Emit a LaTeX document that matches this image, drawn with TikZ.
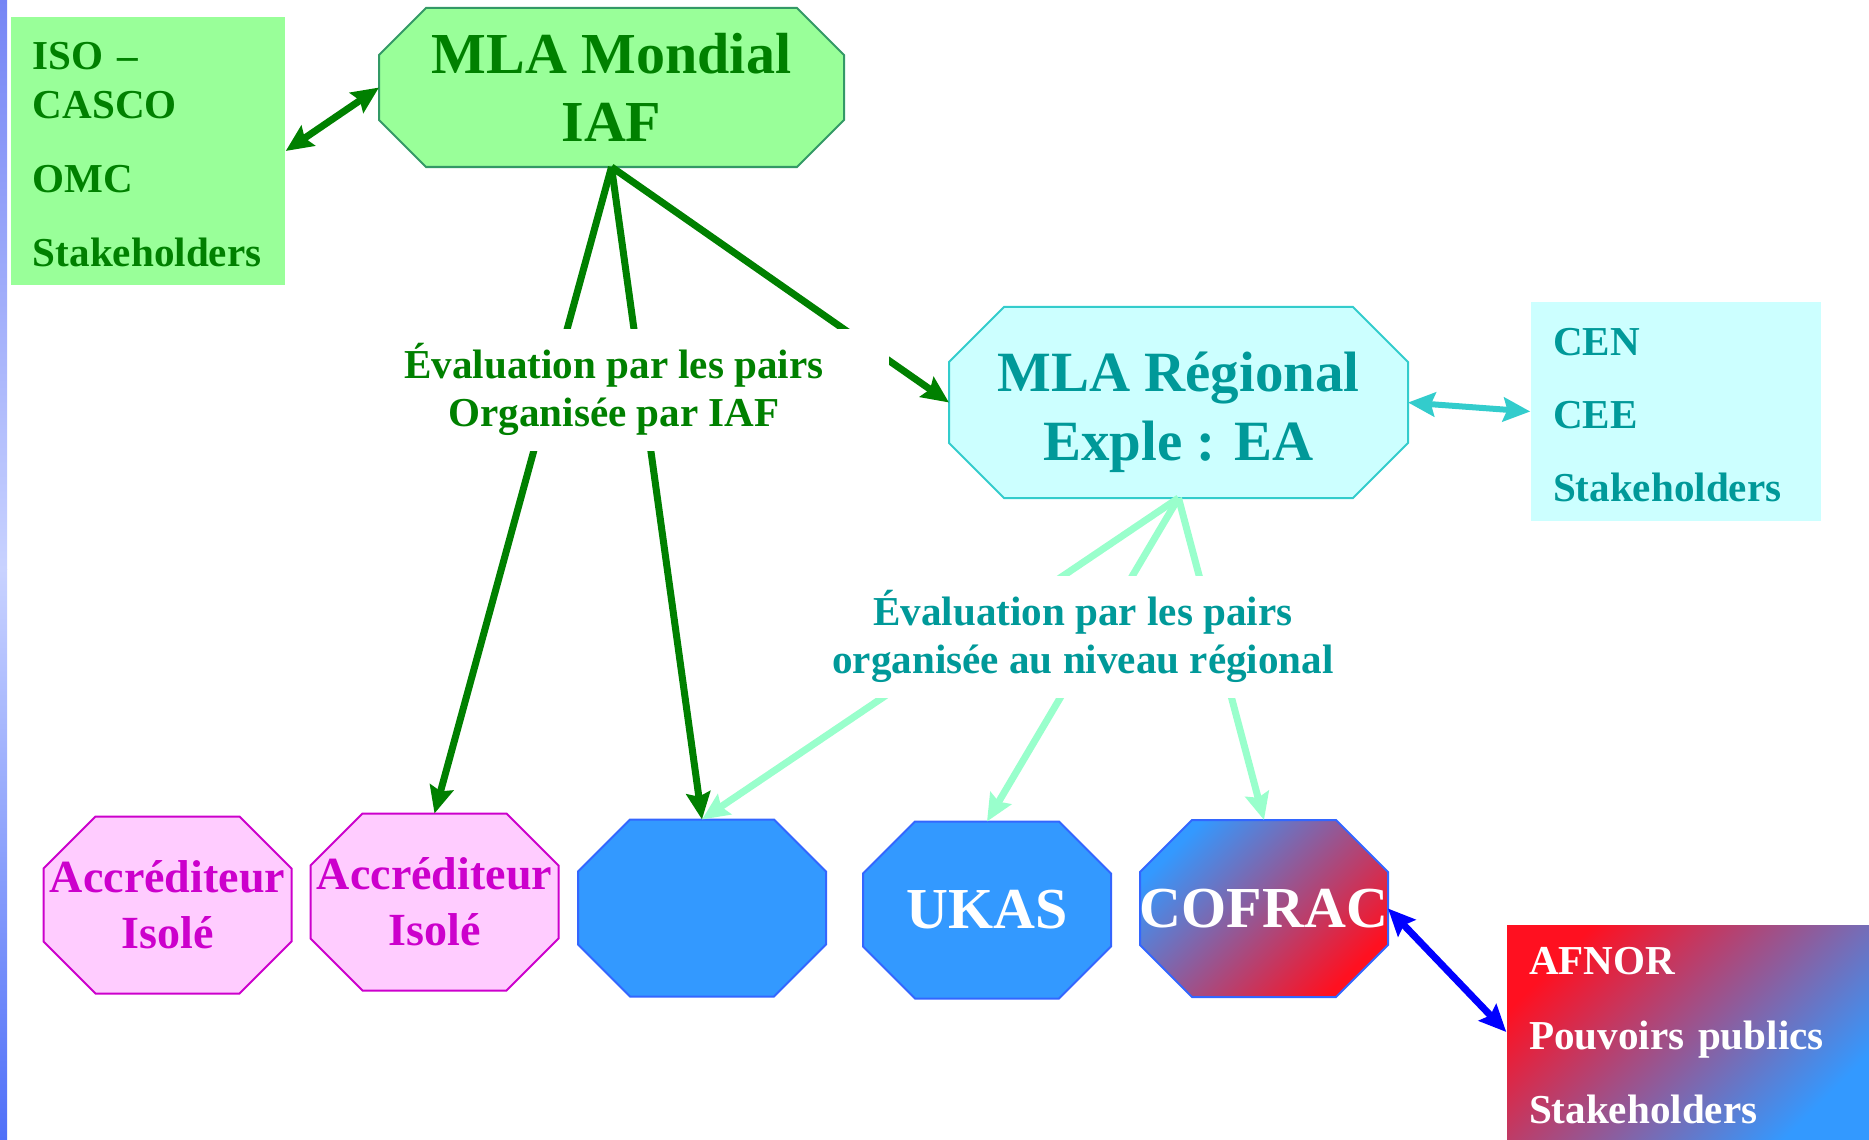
\documentclass[tikz,border=0pt]{standalone}
\usepackage{fontspec}
\setmainfont{Liberation Serif}
\usetikzlibrary{arrows.meta}

\definecolor{iafgreen}{HTML}{008000}
\definecolor{iaffill}{HTML}{99FF99}
\definecolor{iafline}{HTML}{339966}
\definecolor{eateal}{HTML}{009999}
\definecolor{eafill}{HTML}{CCFFFF}
\definecolor{ealine}{HTML}{33CCCC}
\definecolor{peerline}{HTML}{99FFCC}
\definecolor{accfill}{HTML}{FFCCFF}
\definecolor{accline}{HTML}{CC00CC}
\definecolor{nabfill}{HTML}{3399FF}
\definecolor{nabline}{HTML}{3366FF}
\definecolor{afnorred}{HTML}{FF1020}
\definecolor{bartop}{HTML}{7585F5}
\definecolor{barmid}{HTML}{C8D2FF}
\definecolor{barbot}{HTML}{5070F8}

% rectangle with cut corners
\makeatletter
\pgfkeys{/pgf/octo cut/.initial=0.52cm}
\pgfdeclareshape{octobox}{
	\inheritsavedanchors[from=rectangle]
	\inheritanchorborder[from=rectangle]
	\inheritanchor[from=rectangle]{center}
	\inheritanchor[from=rectangle]{text}
	\inheritanchor[from=rectangle]{north}
	\inheritanchor[from=rectangle]{south}
	\inheritanchor[from=rectangle]{east}
	\inheritanchor[from=rectangle]{west}
	\backgroundpath{%
		\pgfmathsetlength\pgfutil@tempdima{\pgfkeysvalueof{/pgf/octo cut}}%
		\southwest \edef\octoL{\the\pgf@x}\edef\octoB{\the\pgf@y}%
		\pgf@xa=\pgf@x \advance\pgf@xa by \pgfutil@tempdima \edef\octoLc{\the\pgf@xa}%
		\pgf@ya=\pgf@y \advance\pgf@ya by \pgfutil@tempdima \edef\octoBc{\the\pgf@ya}%
		\northeast \edef\octoR{\the\pgf@x}\edef\octoT{\the\pgf@y}%
		\pgf@xa=\pgf@x \advance\pgf@xa by -\pgfutil@tempdima \edef\octoRc{\the\pgf@xa}%
		\pgf@ya=\pgf@y \advance\pgf@ya by -\pgfutil@tempdima \edef\octoTc{\the\pgf@ya}%
		\pgfpathmoveto{\pgfqpoint{\octoLc}{\octoB}}%
		\pgfpathlineto{\pgfqpoint{\octoRc}{\octoB}}%
		\pgfpathlineto{\pgfqpoint{\octoR}{\octoBc}}%
		\pgfpathlineto{\pgfqpoint{\octoR}{\octoTc}}%
		\pgfpathlineto{\pgfqpoint{\octoRc}{\octoT}}%
		\pgfpathlineto{\pgfqpoint{\octoLc}{\octoT}}%
		\pgfpathlineto{\pgfqpoint{\octoL}{\octoTc}}%
		\pgfpathlineto{\pgfqpoint{\octoL}{\octoBc}}%
		\pgfpathclose
	}
}
\makeatother

\tikzset{
	>={Stealth[length=0.27cm,width=0.24cm,inset=0.04cm]},
	octo/.style={shape=octobox, octo cut=#1, inner sep=0pt, outer sep=0pt, line width=0.02cm},
	octo/.default=0.52cm,
	sidebox/.style={rectangle, inner xsep=0.22cm, inner ysep=0pt, align=left, font=\fontsize{11.7}{14}\selectfont\bfseries, execute at begin node=\strut},
	peerlabel/.style={fill=white, inner sep=0pt, align=center, minimum height=1.22cm, font=\fontsize{11.7}{13.7}\selectfont\bfseries},
	bigtext/.style={align=center, inner sep=0pt, font=\fontsize{16.5}{19.4}\selectfont\bfseries},
	acctext/.style={align=center, inner sep=0pt, text=accline, font=\fontsize{13.1}{15.9}\selectfont\bfseries},
	nabbox/.style={octo, draw=nabline, minimum width=2.48cm, minimum height=1.77cm},
	accbox/.style={nabbox, draw=accline, fill=accfill, label={[acctext]center:{Accréditeur\\Isolé}}},
	link/.style={line width=0.07cm}
}

\begin{document}
\begin{tikzpicture}
		%%%%% START %%%%%
		\useasboundingbox (0, 0) rectangle (18.69, 11.39);
		
		\shade[top color=bartop, bottom color=barmid] (0, 5.7) rectangle (0.07, 11.39);
		\shade[top color=barmid, bottom color=barbot] (0, 0) rectangle (0.07, 5.7);
		
		% world level
		\node[sidebox, fill=iaffill, text=iafgreen, text width=2.30cm, minimum width=2.74cm, minimum height=2.68cm] (iso) at (1.48, 9.88) {ISO --\\CASCO\\[0.25cm]OMC\\[0.25cm]Stakeholders};
		\node[octo=0.47cm, draw=iafline, fill=iaffill, minimum width=4.65cm, minimum height=1.59cm, label={[bigtext, text=iafgreen]center:{MLA Mondial\\IAF}}] (mondial) at (6.115, 10.515) {};
		
		% regional level
		\node[octo=0.55cm, draw=ealine, fill=eafill, minimum width=4.59cm, minimum height=1.91cm, label={[bigtext, text=eateal, font=\fontsize{16.2}{19.6}\selectfont\bfseries, yshift=-0.1cm]center:{MLA Régional\\Exple : EA}}] (regional) at (11.785, 7.365) {};
		\node[sidebox, fill=eafill, text=eateal, text width=2.46cm, minimum width=2.90cm, minimum height=2.19cm] (cen) at (16.76, 7.275) {CEN\\[0.24cm]CEE\\[0.24cm]Stakeholders};
		
		% accreditation bodies
		\node[accbox] (acc1) at (1.675, 2.34) {};
		\node[accbox] (acc2) at (4.345, 2.37) {};
		\node[nabbox, fill=nabfill] (nab) at (7.02, 2.31) {};
		\node[nabbox, fill=nabfill, label={[bigtext, text=white]center:UKAS}] (ukas) at (9.87, 2.29) {};
		\node[nabbox, left color=nabfill, right color=afnorred, shading angle=45, label={[bigtext, text=white]center:COFRAC}] (cofrac) at (12.64, 2.305) {};
		\node[sidebox, left color=afnorred, right color=nabfill, shading angle=45, text=white, text width=3.19cm, minimum width=3.61cm, minimum height=2.14cm] (afnor) at (16.885, 1.07) {AFNOR\\[0.25cm]Pouvoirs publics\\[0.25cm]Stakeholders};
		
		% links
		\draw[<->, link, iafgreen] (iso.east) -- (mondial.west);
		\draw[->, link, iafgreen] (mondial.south) -- (acc2.north);
		\draw[->, link, iafgreen] (mondial.south) -- (nab.north);
		\draw[->, link, iafgreen] (mondial.south) -- (regional.west);
		\draw[<->, link, ealine, line width=0.06cm] (regional.east) -- (cen.west);
		\draw[->, link, peerline] (regional.south) -- (nab.north);
		\draw[->, link, peerline] (regional.south) -- (ukas.north);
		\draw[->, link, peerline] (regional.south) -- (cofrac.north);
		\draw[<->, link, blue] (cofrac.east) -- (afnor.west);
		
		% peer evaluation labels
		\node[peerlabel, text=iafgreen, minimum width=5.5cm] (peeriaf) at (6.14, 7.495) {Évaluation par les pairs\\Organisée par IAF};
		\node[peerlabel, text=eateal, minimum width=5.6cm] (peerea) at (10.83, 5.025) {Évaluation par les pairs\\organisée au niveau régional};
		
		%%%%% END %%%%%
	\end{tikzpicture}
\end{document}
